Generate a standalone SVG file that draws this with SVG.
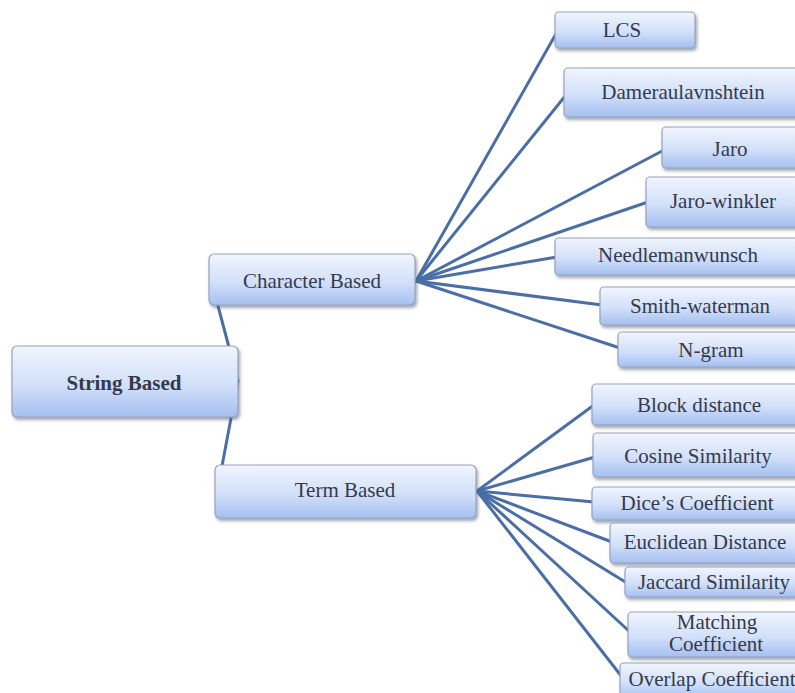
<svg xmlns="http://www.w3.org/2000/svg" width="795" height="693" viewBox="0 0 795 693">
<defs>
<linearGradient id="g" x1="0" y1="0" x2="0" y2="1">
<stop offset="0" stop-color="#f1f5fd"/>
<stop offset="0.55" stop-color="#d2e0fa"/>
<stop offset="1" stop-color="#a5bff0"/>
</linearGradient>
<filter id="sh" x="-10%" y="-20%" width="130%" height="160%">
<feDropShadow dx="1.5" dy="2.5" stdDeviation="1.5" flood-color="#556070" flood-opacity="0.55"/>
</filter>
<style>
.box{fill:url(#g);stroke:#95a4bd;stroke-width:1.2;filter:url(#sh)}
.t{font-size:21px;fill:#343a4c;text-anchor:middle}
.b{font-weight:bold}
.c{fill:none;stroke:#4a6ea6;stroke-width:3;stroke-linecap:round;stroke-linejoin:round}
</style>
</defs>
<rect width="795" height="693" fill="#ffffff"/>
<g id="connectors">
<path class="c" d="M218,306 L238,381 L222,466"/>
<path class="c" d="M416,281 L557,32"/>
<path class="c" d="M416,281 L566,95"/>
<path class="c" d="M416,281 L664,150"/>
<path class="c" d="M416,281 L648,202"/>
<path class="c" d="M416,281 L557,257"/>
<path class="c" d="M416,281 L602,305"/>
<path class="c" d="M416,281 L620,348"/>
<path class="c" d="M477,491 L594,405"/>
<path class="c" d="M477,491 L595,457"/>
<path class="c" d="M477,491 L594,502"/>
<path class="c" d="M477,491 L612,542"/>
<path class="c" d="M477,491 L627,583"/>
<path class="c" d="M477,491 L630,632"/>
<path class="c" d="M477,491 L622,677"/>
</g>
<g font-family="Liberation Serif, DejaVu Serif, serif">
<g id="n-string"><rect class="box" x="12" y="346" width="226" height="71" rx="5"/><text class="t b" x="124" y="390">String Based</text></g>
<g id="n-character"><rect class="box" x="209" y="254" width="206" height="51" rx="5"/><text class="t" x="312" y="288">Character Based</text></g>
<g id="n-term"><rect class="box" x="215" y="465" width="261" height="53" rx="5"/><text class="t" x="345" y="497">Term Based</text></g>
<g id="n-lcs"><rect class="box" x="555" y="12" width="140" height="36" rx="4"/><text class="t" x="622" y="37">LCS</text></g>
<g id="n-dam"><rect class="box" x="564" y="68" width="240" height="49" rx="4"/><text class="t" x="683" y="99">Dameraulavnshtein</text></g>
<g id="n-jaro"><rect class="box" x="662" y="127" width="140" height="41" rx="4"/><text class="t" x="730" y="156">Jaro</text></g>
<g id="n-jw"><rect class="box" x="646" y="177" width="156" height="50" rx="4"/><text class="t" x="723" y="208">Jaro-winkler</text></g>
<g id="n-nw"><rect class="box" x="555" y="238" width="247" height="37" rx="4"/><text class="t" x="678" y="262">Needlemanwunsch</text></g>
<g id="n-sw"><rect class="box" x="600" y="287" width="202" height="38" rx="4"/><text class="t" x="700" y="313">Smith-waterman</text></g>
<g id="n-ng"><rect class="box" x="618" y="332" width="184" height="35" rx="4"/><text class="t" x="711" y="357">N-gram</text></g>
<g id="n-block"><rect class="box" x="592" y="384" width="210" height="41" rx="4"/><text class="t" x="699" y="412">Block distance</text></g>
<g id="n-cos"><rect class="box" x="593" y="433" width="209" height="44" rx="4"/><text class="t" x="698" y="463">Cosine Similarity</text></g>
<g id="n-dice"><rect class="box" x="592" y="487" width="210" height="33" rx="4"/><text class="t" x="697" y="510">Dice’s Coefficient</text></g>
<g id="n-euc"><rect class="box" x="610" y="523" width="192" height="40" rx="4"/><text class="t" x="705" y="549">Euclidean  Distance</text></g>
<g id="n-jac"><rect class="box" x="625" y="567" width="177" height="30" rx="4"/><text class="t" x="714" y="589">Jaccard Similarity</text></g>
<g id="n-match"><rect class="box" x="628" y="612" width="174" height="45" rx="4"/><text class="t" x="717" y="629" font-size="18">Matching</text><text class="t" x="716" y="651" font-size="18">Coefficient</text></g>
<g id="n-overlap"><rect class="box" x="620" y="663" width="182" height="36" rx="4"/><text class="t" x="712" y="686">Overlap Coefficient</text></g>
</g>
</svg>
